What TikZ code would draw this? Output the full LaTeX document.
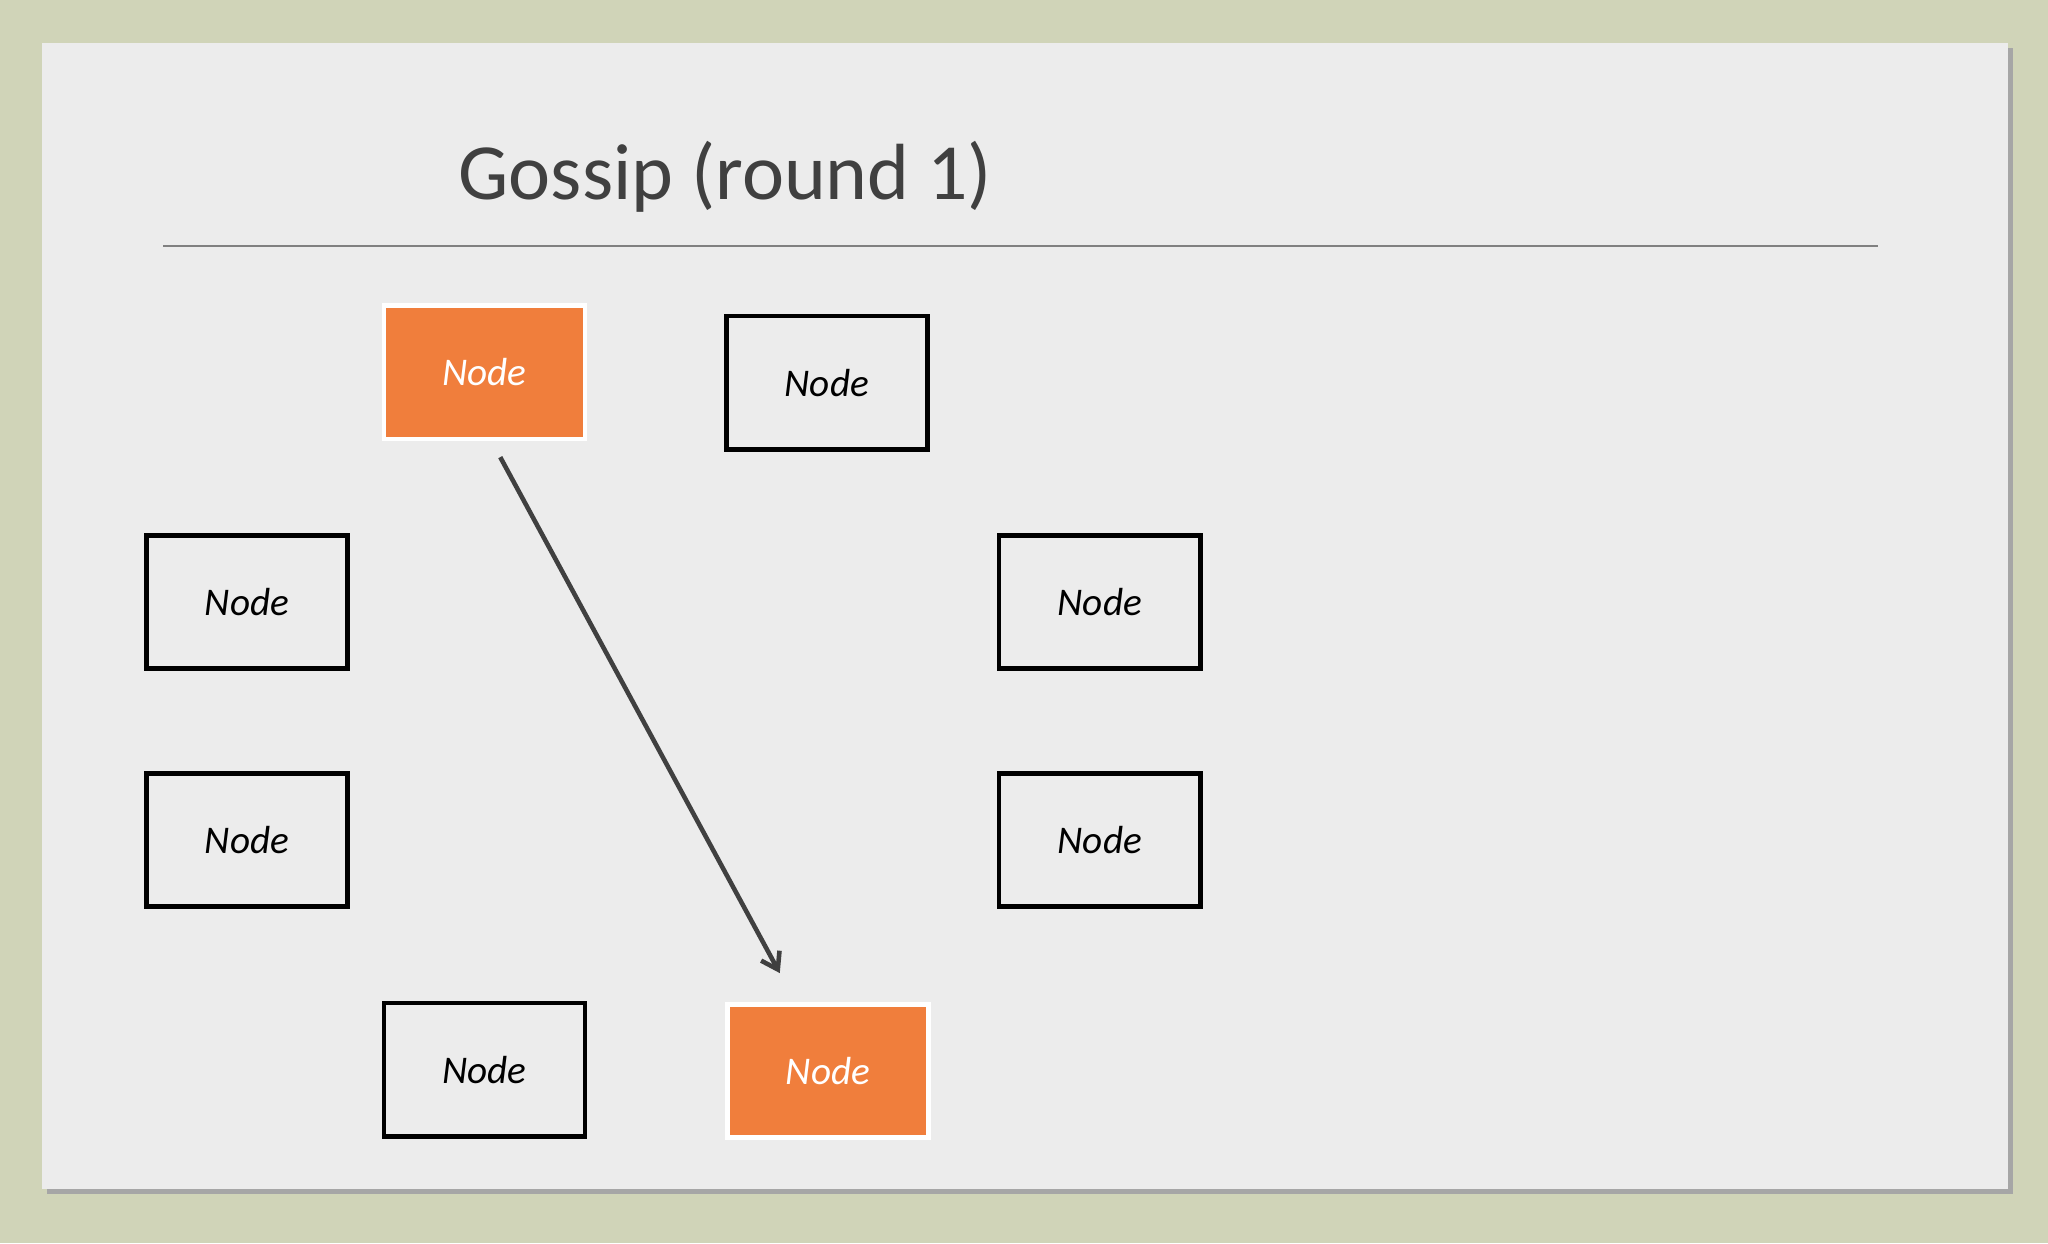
\documentclass[tikz,border=0pt]{standalone}
\usepackage{fontspec}
\setmainfont{Carlito}
\usetikzlibrary{arrows.meta}
\definecolor{bgg}{RGB}{208,212,184}
\definecolor{slide}{RGB}{236,236,236}
\definecolor{org}{RGB}{240,126,60}
\definecolor{ttl}{RGB}{64,64,64}
\begin{document}
\begin{tikzpicture}[x=1pt,y=-1pt,
  box/.style={draw=black,line width=3.5pt,minimum width=154pt,minimum height=102pt,inner sep=0pt,font=\fontsize{30}{30}\selectfont\itshape,fill=slide},
  hot/.style={fill=org,draw=white,line width=3.5pt,minimum width=154pt,minimum height=102pt,inner sep=0pt,font=\fontsize{30}{30}\selectfont\itshape,text=white}]
\useasboundingbox (0,0) rectangle (1568,952);
\fill[bgg] (0,0) rectangle (1568,952);
\fill[black!35] (36,37) rectangle (1541,914);
\fill[slide] (32,33) rectangle (1537,910);
\node[anchor=base west,text=ttl,font=\fontsize{61}{61}\selectfont,inner sep=0pt] (title) at (351,153) {Gossip (round 1)};
\draw[gray,line width=1.5pt] (125,188) -- (1438,188);
\node[hot] (a) at (371,285) {Node};
\node[box] (b) at (633,293) {Node};
\node[box] (c) at (189,461) {Node};
\node[box] (d) at (189,643) {Node};
\node[box] (e) at (842,461) {Node};
\node[box] (f) at (842,643) {Node};
\node[box] (g) at (371,819) {Node};
\node[hot] (h) at (634,820) {Node};
\coordinate (s) at (383,350);
\coordinate (t) at (597,745);
\draw[ttl,line width=3.5pt,-{Straight Barb[length=12pt,width=16pt]}] (s) -- (t);
\end{tikzpicture}
\end{document}
